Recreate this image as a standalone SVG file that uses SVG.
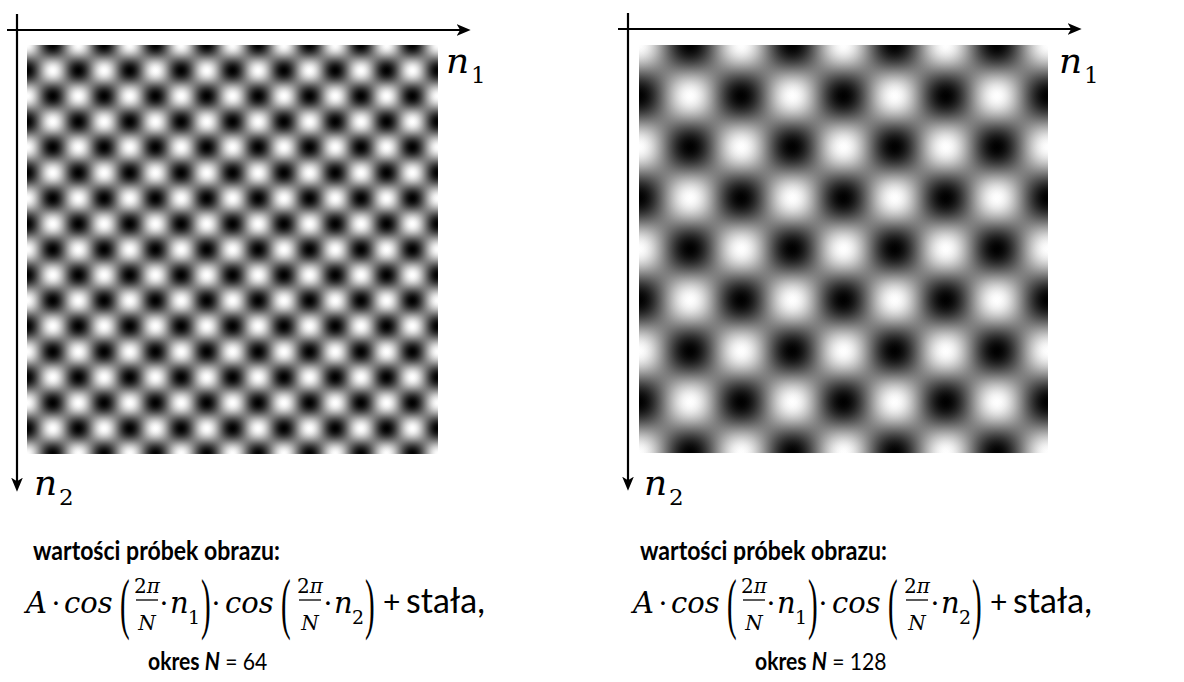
<svg xmlns="http://www.w3.org/2000/svg" xmlns:xlink="http://www.w3.org/1999/xlink" width="1184" height="682" viewBox="0 0 1184 682">
<style>
.ax{stroke:#000;stroke-width:2.2;fill:none}
.mi{font-family:"DejaVu Serif",serif;font-style:italic;font-size:29px;fill:#000}
.mr{font-family:"DejaVu Serif",serif;font-size:28px;fill:#000;text-anchor:middle}
.par{font-family:"Liberation Serif",serif;font-size:29px;fill:#000}
.fr{font-family:"DejaVu Serif",serif;font-size:20px;fill:#000;text-anchor:middle}
.sub{font-family:"DejaVu Serif",serif;font-size:19px;fill:#000}
.lab{font-family:"DejaVu Serif",serif;font-style:italic;font-size:36px;fill:#000}
.labs{font-family:"DejaVu Serif",serif;font-size:23px;fill:#000}
.sans{font-family:Lato,"Open Sans",sans-serif;fill:#000}
.bar{stroke:#000;stroke-width:1.3}
</style>
<defs>
<marker id="arr" markerUnits="userSpaceOnUse" markerWidth="14" markerHeight="12" refX="8" refY="5" orient="auto" viewBox="0 0 12 10">
<path d="M0,0 L12,5 L0,10 L3,5 z" fill="#000"/>
</marker>
<linearGradient id="cosg" spreadMethod="repeat">
<stop offset="0" stop-color="#fff"/>
<stop offset="0.0417" stop-color="#fbfbfb"/>
<stop offset="0.0833" stop-color="#eeeeee"/>
<stop offset="0.125" stop-color="#dadada"/>
<stop offset="0.1667" stop-color="#bfbfbf"/>
<stop offset="0.2083" stop-color="#a0a0a0"/>
<stop offset="0.25" stop-color="#808080"/>
<stop offset="0.2917" stop-color="#5e5e5e"/>
<stop offset="0.3333" stop-color="#404040"/>
<stop offset="0.375" stop-color="#252525"/>
<stop offset="0.4167" stop-color="#111111"/>
<stop offset="0.4583" stop-color="#040404"/>
<stop offset="0.5" stop-color="#000"/>
<stop offset="0.5417" stop-color="#040404"/>
<stop offset="0.5833" stop-color="#111111"/>
<stop offset="0.625" stop-color="#252525"/>
<stop offset="0.6667" stop-color="#404040"/>
<stop offset="0.7083" stop-color="#5e5e5e"/>
<stop offset="0.75" stop-color="#808080"/>
<stop offset="0.7917" stop-color="#a0a0a0"/>
<stop offset="0.8333" stop-color="#bfbfbf"/>
<stop offset="0.875" stop-color="#dadada"/>
<stop offset="0.9167" stop-color="#eeeeee"/>
<stop offset="0.9583" stop-color="#fbfbfb"/>
<stop offset="1" stop-color="#fff"/>
</linearGradient>
<linearGradient id="g64a" href="#cosg" xlink:href="#cosg" gradientUnits="userSpaceOnUse" x1="0" y1="0" x2="32" y2="32"/>
<linearGradient id="g64b" href="#cosg" xlink:href="#cosg" gradientUnits="userSpaceOnUse" x1="0" y1="0" x2="32" y2="-32"/>
<linearGradient id="g128a" href="#cosg" xlink:href="#cosg" gradientUnits="userSpaceOnUse" x1="0" y1="0" x2="64" y2="64"/>
<linearGradient id="g128b" href="#cosg" xlink:href="#cosg" gradientUnits="userSpaceOnUse" x1="0" y1="0" x2="64" y2="-64"/>
</defs>
<rect width="1184" height="682" fill="#fff"/>

<g id="image-left" transform="translate(27,45) scale(0.8027,0.7988)">
<rect width="512" height="512" fill="url(#g64a)"/>
<rect width="512" height="512" fill="url(#g64b)" opacity="0.5"/>
</g>
<g id="image-right" transform="translate(639,45) scale(0.7988,0.7969)">
<rect width="512" height="512" fill="url(#g128a)"/>
<rect width="512" height="512" fill="url(#g128b)" opacity="0.5"/>
</g>

<g id="connectors">
<line class="ax" x1="7" y1="30" x2="466" y2="30" marker-end="url(#arr)"/>
<line class="ax" x1="17" y1="14" x2="17" y2="487" marker-end="url(#arr)"/>
<line class="ax" x1="618" y1="29" x2="1077" y2="29" marker-end="url(#arr)"/>
<line class="ax" x1="628" y1="13" x2="628" y2="486" marker-end="url(#arr)"/>
</g>

<g id="label-n1-left"><text class="lab" x="446" y="73">n</text><text class="labs" x="471" y="83">1</text></g>
<g id="label-n2-left"><text class="lab" x="34" y="495">n</text><text class="labs" x="59" y="505">2</text></g>
<g id="label-n1-right"><text class="lab" x="1059" y="73">n</text><text class="labs" x="1084" y="83">1</text></g>
<g id="label-n2-right"><text class="lab" x="644" y="495">n</text><text class="labs" x="669" y="505">2</text></g>

<g id="caption-left">
<text class="sans" x="33" y="560" font-size="27" font-weight="bold" textLength="247" lengthAdjust="spacingAndGlyphs">wartości próbek obrazu:</text>
<text class="mi" x="26" y="613">A</text>
<text class="mr" x="56" y="613">·</text>
<text class="mi" x="64" y="613">cos</text>
<text class="par" transform="translate(120,626) scale(1,2.3)">(</text>
<text class="fr" x="147" y="593">2<tspan font-style="italic">π</tspan></text>
<line class="bar" x1="136" y1="600" x2="158" y2="600"/>
<text class="fr" x="147" y="630" font-style="italic">N</text>
<text class="mr" x="164" y="613">·</text>
<text class="mi" x="170" y="613">n</text>
<text class="sub" x="188" y="624">1</text>
<text class="par" transform="translate(201,626) scale(1,2.3)">)</text>
<text class="mr" x="216" y="613">·</text>
<text class="mi" x="225" y="613">cos</text>
<text class="par" transform="translate(281,626) scale(1,2.3)">(</text>
<text class="fr" x="310" y="593">2<tspan font-style="italic">π</tspan></text>
<line class="bar" x1="299" y1="600" x2="321" y2="600"/>
<text class="fr" x="310" y="630" font-style="italic">N</text>
<text class="mr" x="328" y="613">·</text>
<text class="mi" x="334" y="613">n</text>
<text class="sub" x="352" y="624">2</text>
<text class="par" transform="translate(365,626) scale(1,2.3)">)</text>
<text class="sans" x="383" y="613" font-size="30">+</text>
<text class="sans" x="406" y="613" font-size="34">stała,</text>
<text class="sans" font-size="24" transform="translate(148,670) scale(0.88,1)"><tspan font-weight="bold">okres </tspan><tspan font-weight="bold" font-style="italic">N</tspan> = 64</text>
</g>

<g id="caption-right">
<text class="sans" x="640" y="560" font-size="27" font-weight="bold" textLength="247" lengthAdjust="spacingAndGlyphs">wartości próbek obrazu:</text>
<text class="mi" x="633" y="613">A</text>
<text class="mr" x="663" y="613">·</text>
<text class="mi" x="671" y="613">cos</text>
<text class="par" transform="translate(727,626) scale(1,2.3)">(</text>
<text class="fr" x="754" y="593">2<tspan font-style="italic">π</tspan></text>
<line class="bar" x1="743" y1="600" x2="765" y2="600"/>
<text class="fr" x="754" y="630" font-style="italic">N</text>
<text class="mr" x="771" y="613">·</text>
<text class="mi" x="777" y="613">n</text>
<text class="sub" x="795" y="624">1</text>
<text class="par" transform="translate(808,626) scale(1,2.3)">)</text>
<text class="mr" x="823" y="613">·</text>
<text class="mi" x="832" y="613">cos</text>
<text class="par" transform="translate(888,626) scale(1,2.3)">(</text>
<text class="fr" x="917" y="593">2<tspan font-style="italic">π</tspan></text>
<line class="bar" x1="906" y1="600" x2="928" y2="600"/>
<text class="fr" x="917" y="630" font-style="italic">N</text>
<text class="mr" x="935" y="613">·</text>
<text class="mi" x="941" y="613">n</text>
<text class="sub" x="959" y="624">2</text>
<text class="par" transform="translate(972,626) scale(1,2.3)">)</text>
<text class="sans" x="990" y="613" font-size="30">+</text>
<text class="sans" x="1013" y="613" font-size="34">stała,</text>
<text class="sans" font-size="24" transform="translate(755,670) scale(0.88,1)"><tspan font-weight="bold">okres </tspan><tspan font-weight="bold" font-style="italic">N</tspan> = 128</text>
</g>
</svg>
